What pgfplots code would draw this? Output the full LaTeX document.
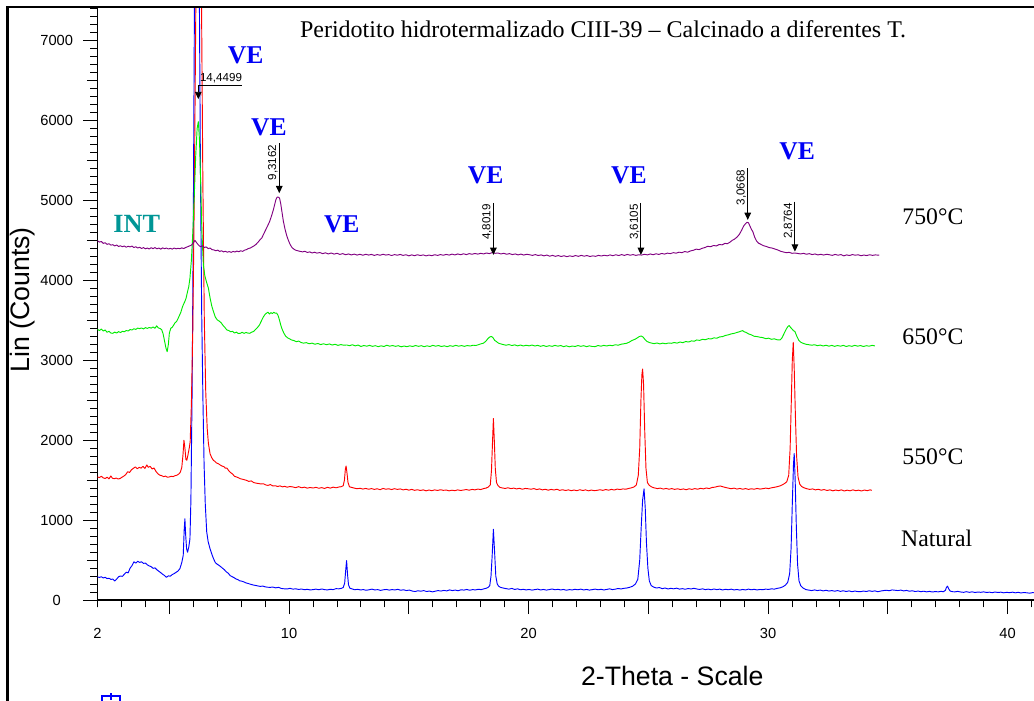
\documentclass[border=0pt]{standalone}
\usepackage{fontspec}
\setmainfont{Liberation Serif}
\setsansfont{Liberation Sans}
\usepackage{pgfplots}
\pgfplotsset{compat=1.18}
\usetikzlibrary{arrows.meta}

\definecolor{xrdblue}{RGB}{0,0,255}
\definecolor{xrdred}{RGB}{255,0,0}
\definecolor{xrdgreen}{RGB}{0,235,0}
\definecolor{xrdpurple}{RGB}{128,0,128}
\definecolor{intteal}{RGB}{0,150,150}
\definecolor{veblue}{RGB}{0,0,245}

\newcommand{\dfont}{\fontsize{8.7}{10}\selectfont\sffamily}
% d-spacing marker: vertical arrow down to the reflection, value written along it
\newcommand{\dspacing}[4]{%
  \draw[line width=0.7pt,-{Triangle[width=5pt,length=5.5pt]}] (axis cs:#1,#2) -- (axis cs:#1,#3);
  \node[rotate=90, anchor=south east, inner sep=1pt, font=\dfont] at (axis cs:#1,#2) {#4};}

\begin{document}
\begin{tikzpicture}
\useasboundingbox (0,0) rectangle (775.5pt,525pt);
\begin{axis}[
  at={(73.125pt,75pt)}, anchor=south west,
  scale only axis, width=862.2pt, height=444.75pt,
  xmin=2, xmax=50, ymin=0, ymax=7420,
  clip mode=individual,
  axis x line*=bottom, axis y line*=left,
  axis line style={-, line width=0.9pt},
  tick align=outside,
  major tick length=10.5pt, minor tick length=5.5pt,
  tick style={black, line width=0.7pt},
  xtick={5,10,...,40}, xticklabels={,10,,20,,30,,40},
  minor xtick={2,3,...,50},
  extra x ticks={2}, extra x tick labels={2},
  extra x tick style={major tick length=5.5pt, xticklabel style={yshift=-5pt}},
  ytick={0,1000,...,7000},
  minor ytick={0,100,...,7400},
  extra y ticks={500,1500,...,6500}, extra y tick labels={},
  extra y tick style={major tick length=8pt},
  tick label style={font=\fontsize{11}{13}\selectfont\sffamily},
  /pgf/number format/assume math mode=true,
  /pgf/number format/1000 sep={},
  yticklabel={\makebox[24.75pt][c]{\pgfmathprintnumber{\tick}}},
  yticklabel style={anchor=east, inner sep=0pt, xshift=-7.5pt},
  xticklabel style={yshift=-7.5pt},
  xlabel={2-Theta - Scale},
  xlabel style={font=\fontsize{20}{24}\selectfont\sffamily, at={(axis description cs:0.5,-0.145)}, anchor=base},
  ylabel={Lin (Counts)},
  ylabel style={font=\fontsize{20}{24}\selectfont\sffamily, at={(axis description cs:-0.0648,0.506)}, anchor=center},
  every axis plot/.append style={line width=0.7pt, line join=round, mark=none},
]

% Natural
\addplot[xrdblue] coordinates {
(2.00,290)(2.08,282)(2.16,291)(2.24,276)(2.32,284)(2.40,268)(2.48,272)(2.56,258)(2.64,262)(2.72,238)(2.80,262)(2.88,291)(2.96,300)(3.04,296)(3.12,322)(3.20,348)(3.28,340)(3.36,398)(3.44,430)(3.52,478)(3.60,462)(3.68,485)(3.76,470)(3.84,478)(3.92,458)(4.00,462)(4.08,440)(4.16,426)(4.24,418)(4.32,396)(4.40,402)(4.48,378)(4.56,360)(4.64,342)(4.72,322)(4.80,306)(4.88,284)(4.96,302)(5.04,298)(5.12,318)(5.20,330)(5.28,346)(5.36,362)(5.44,392)(5.52,470)(5.58,560)(5.62,880)(5.65,1016)(5.68,820)(5.72,640)(5.76,598)(5.81,660)(5.86,765)(5.90,1250)(5.95,2600)(6.00,4700)(6.05,7600)(6.10,9900)(6.15,10600)(6.20,9900)(6.25,7700)(6.30,5300)(6.35,3600)(6.40,2550)(6.45,1700)(6.50,1200)(6.56,853)(6.62,730)(6.70,640)(6.77,577)(6.84,520)(6.92,468)(6.98,452)(7.06,436)(7.14,418)(7.22,398)(7.30,378)(7.38,352)(7.46,335)(7.54,305)(7.62,292)(7.70,280)(7.78,264)(7.86,255)(7.94,240)(8.02,236)(8.10,228)(8.20,214)(8.30,206)(8.40,196)(8.50,188)(8.60,182)(8.70,176)(8.80,170)(8.90,175)(9.00,165)(9.10,160)(9.20,158)(9.32,162)(9.44,152)(9.56,158)(9.68,144)(9.80,140)(9.92,138)(10.04,146)(10.16,136)(10.28,140)(10.40,132)(10.52,138)(10.64,128)(10.76,134)(10.88,126)(11.00,130)(11.12,136)(11.24,128)(11.36,138)(11.48,130)(11.60,126)(11.72,134)(11.84,130)(11.96,142)(12.08,140)(12.18,146)(12.26,156)(12.32,210)(12.36,360)(12.40,493)(12.44,320)(12.48,190)(12.54,147)(12.62,140)(12.74,128)(12.86,134)(12.98,126)(13.10,130)(13.22,122)(13.34,128)(13.46,136)(13.58,126)(13.70,130)(13.82,120)(13.94,128)(14.06,132)(14.18,124)(14.30,130)(14.42,126)(14.54,134)(14.66,122)(14.78,128)(14.90,118)(15.02,124)(15.14,112)(15.26,106)(15.38,116)(15.50,110)(15.62,118)(15.74,106)(15.86,112)(15.98,102)(16.10,110)(16.22,118)(16.34,112)(16.46,120)(16.58,114)(16.70,126)(16.82,118)(16.94,124)(17.06,116)(17.18,128)(17.30,124)(17.42,132)(17.54,122)(17.66,130)(17.78,126)(17.90,134)(18.02,130)(18.14,140)(18.24,148)(18.32,160)(18.38,182)(18.43,300)(18.48,560)(18.53,885)(18.58,600)(18.63,300)(18.69,200)(18.75,172)(18.84,156)(18.94,150)(19.06,142)(19.18,136)(19.30,145)(19.42,132)(19.54,140)(19.66,128)(19.78,134)(19.90,126)(20.02,132)(20.14,124)(20.26,130)(20.38,136)(20.50,126)(20.62,132)(20.74,124)(20.86,130)(20.98,138)(21.10,128)(21.22,134)(21.34,126)(21.46,132)(21.58,122)(21.70,130)(21.82,126)(21.94,134)(22.06,128)(22.18,136)(22.30,126)(22.42,132)(22.54,124)(22.66,130)(22.78,136)(22.90,128)(23.02,134)(23.14,126)(23.26,132)(23.38,140)(23.50,130)(23.62,136)(23.74,144)(23.86,138)(23.98,146)(24.10,150)(24.22,159)(24.34,172)(24.46,200)(24.56,260)(24.64,500)(24.70,900)(24.76,1250)(24.82,1390)(24.87,1150)(24.92,720)(24.98,400)(25.04,240)(25.12,180)(25.22,162)(25.34,150)(25.46,156)(25.58,142)(25.70,150)(25.82,138)(25.94,146)(26.06,140)(26.18,148)(26.30,136)(26.42,142)(26.54,134)(26.66,144)(26.78,138)(26.90,146)(27.02,138)(27.14,132)(27.26,140)(27.38,130)(27.50,136)(27.62,128)(27.74,138)(27.86,130)(27.98,136)(28.10,126)(28.22,134)(28.34,128)(28.46,136)(28.58,126)(28.70,132)(28.82,124)(28.94,132)(29.06,126)(29.18,136)(29.30,128)(29.42,134)(29.54,126)(29.66,132)(29.78,129)(29.90,136)(30.02,132)(30.14,140)(30.26,136)(30.38,146)(30.50,152)(30.62,166)(30.72,185)(30.82,222)(30.90,330)(30.96,650)(31.01,1200)(31.06,1700)(31.09,1832)(31.13,1500)(31.18,900)(31.23,450)(31.29,240)(31.36,180)(31.46,150)(31.58,130)(31.70,124)(31.82,118)(31.94,126)(32.06,118)(32.18,124)(32.30,114)(32.42,122)(32.54,112)(32.66,118)(32.78,110)(32.90,118)(33.02,108)(33.14,116)(33.26,106)(33.38,114)(33.50,104)(33.62,112)(33.74,106)(33.86,104)(33.98,112)(34.10,106)(34.22,116)(34.34,108)(34.46,114)(34.58,104)(34.70,112)(34.82,118)(34.94,122)(35.06,116)(35.18,126)(35.30,122)(35.42,118)(35.54,124)(35.66,114)(35.78,120)(35.90,110)(36.02,116)(36.14,106)(36.26,112)(36.38,104)(36.50,110)(36.62,102)(36.74,108)(36.86,100)(36.98,106)(37.10,102)(37.22,108)(37.32,104)(37.40,120)(37.45,160)(37.49,174)(37.54,140)(37.60,112)(37.70,104)(37.80,102)(37.92,108)(38.04,100)(38.16,96)(38.28,104)(38.40,96)(38.52,102)(38.64,94)(38.76,100)(38.88,96)(39.00,102)(39.12,94)(39.24,98)(39.36,92)(39.48,100)(39.60,94)(39.72,98)(39.84,90)(39.96,96)(40.08,92)(40.20,98)(40.32,90)(40.44,96)(40.56,88)(40.68,94)(40.80,90)(40.92,86)(41.04,92)(41.16,90)(41.28,94)
};

% 550 C
\addplot[xrdred] coordinates {
(2.00,1540)(2.08,1532)(2.16,1548)(2.24,1528)(2.32,1520)(2.40,1536)(2.48,1516)(2.56,1552)(2.62,1524)(2.70,1518)(2.78,1526)(2.86,1514)(2.94,1520)(3.02,1536)(3.10,1550)(3.18,1570)(3.26,1605)(3.34,1596)(3.42,1630)(3.50,1648)(3.58,1665)(3.66,1642)(3.74,1660)(3.82,1650)(3.90,1672)(3.98,1646)(4.06,1690)(4.12,1660)(4.20,1672)(4.28,1640)(4.36,1652)(4.44,1610)(4.52,1580)(4.60,1562)(4.68,1556)(4.76,1544)(4.84,1550)(4.92,1536)(5.00,1540)(5.08,1548)(5.16,1544)(5.24,1556)(5.32,1562)(5.40,1578)(5.46,1600)(5.52,1660)(5.57,1820)(5.61,1999)(5.65,1900)(5.69,1760)(5.73,1748)(5.78,1820)(5.83,1900)(5.87,1980)(5.92,2450)(5.98,3400)(6.04,5000)(6.10,7200)(6.16,9600)(6.22,10600)(6.28,9600)(6.34,7600)(6.40,5200)(6.46,3500)(6.52,2600)(6.58,2150)(6.63,1960)(6.70,1830)(6.77,1780)(6.84,1748)(6.90,1735)(6.96,1716)(7.04,1706)(7.12,1690)(7.20,1676)(7.28,1668)(7.34,1648)(7.40,1652)(7.48,1618)(7.56,1594)(7.64,1576)(7.72,1548)(7.80,1540)(7.88,1530)(7.96,1518)(8.04,1512)(8.12,1506)(8.22,1497)(8.32,1484)(8.42,1490)(8.52,1470)(8.62,1462)(8.72,1458)(8.82,1452)(8.92,1455)(9.02,1440)(9.12,1434)(9.22,1444)(9.32,1427)(9.42,1430)(9.52,1420)(9.62,1428)(9.72,1416)(9.82,1422)(9.92,1412)(10.04,1420)(10.16,1414)(10.28,1406)(10.40,1418)(10.52,1404)(10.64,1412)(10.76,1400)(10.88,1408)(11.00,1401)(11.12,1410)(11.24,1398)(11.36,1406)(11.48,1396)(11.60,1410)(11.72,1400)(11.84,1412)(11.96,1404)(12.08,1414)(12.18,1418)(12.26,1430)(12.31,1500)(12.35,1640)(12.38,1677)(12.42,1580)(12.46,1470)(12.52,1416)(12.60,1410)(12.72,1400)(12.84,1392)(12.96,1398)(13.08,1388)(13.20,1396)(13.32,1386)(13.44,1394)(13.56,1384)(13.68,1392)(13.80,1380)(13.92,1396)(14.04,1386)(14.16,1392)(14.28,1382)(14.40,1393)(14.52,1384)(14.64,1390)(14.76,1378)(14.88,1386)(15.00,1374)(15.12,1384)(15.24,1372)(15.36,1380)(15.48,1370)(15.60,1378)(15.72,1366)(15.84,1376)(15.96,1368)(16.08,1378)(16.20,1370)(16.32,1380)(16.44,1372)(16.56,1376)(16.68,1366)(16.80,1374)(16.92,1368)(17.04,1378)(17.16,1370)(17.28,1376)(17.40,1382)(17.52,1374)(17.64,1384)(17.76,1378)(17.88,1388)(18.00,1382)(18.12,1394)(18.22,1400)(18.32,1414)(18.40,1440)(18.45,1620)(18.49,1950)(18.53,2271)(18.57,1980)(18.61,1640)(18.66,1470)(18.72,1432)(18.80,1410)(18.90,1402)(19.02,1396)(19.14,1404)(19.26,1394)(19.38,1400)(19.50,1390)(19.62,1398)(19.74,1386)(19.86,1396)(19.98,1392)(20.10,1386)(20.22,1394)(20.34,1382)(20.46,1390)(20.58,1378)(20.70,1386)(20.82,1374)(20.94,1384)(21.06,1376)(21.18,1386)(21.30,1372)(21.42,1380)(21.54,1370)(21.66,1378)(21.78,1368)(21.90,1376)(22.02,1368)(22.14,1380)(22.26,1370)(22.38,1378)(22.50,1366)(22.62,1376)(22.74,1368)(22.86,1372)(22.98,1380)(23.10,1372)(23.22,1382)(23.34,1374)(23.46,1384)(23.58,1376)(23.70,1388)(23.82,1382)(23.94,1390)(24.06,1386)(24.18,1396)(24.30,1404)(24.40,1414)(24.50,1440)(24.58,1560)(24.64,1900)(24.69,2500)(24.73,2820)(24.76,2890)(24.80,2700)(24.85,2100)(24.90,1650)(24.96,1470)(25.04,1434)(25.14,1414)(25.26,1402)(25.38,1394)(25.50,1400)(25.62,1388)(25.74,1396)(25.86,1386)(25.98,1394)(26.10,1384)(26.22,1392)(26.34,1382)(26.46,1390)(26.58,1380)(26.70,1392)(26.82,1384)(26.94,1394)(27.06,1386)(27.18,1398)(27.30,1390)(27.42,1402)(27.54,1394)(27.66,1408)(27.78,1412)(27.90,1422)(28.00,1427)(28.10,1418)(28.22,1408)(28.34,1400)(28.46,1392)(28.58,1400)(28.70,1388)(28.82,1396)(28.94,1386)(29.06,1394)(29.18,1384)(29.30,1392)(29.42,1386)(29.54,1396)(29.66,1388)(29.78,1393)(29.90,1400)(30.02,1394)(30.14,1404)(30.26,1410)(30.38,1418)(30.50,1428)(30.60,1442)(30.70,1460)(30.78,1480)(30.86,1560)(30.92,1900)(30.97,2500)(31.01,3000)(31.05,3225)(31.09,2900)(31.14,2300)(31.19,1800)(31.25,1540)(31.32,1450)(31.40,1420)(31.50,1404)(31.62,1392)(31.74,1384)(31.86,1390)(31.98,1378)(32.10,1386)(32.22,1374)(32.34,1382)(32.46,1370)(32.58,1378)(32.70,1366)(32.82,1376)(32.94,1368)(33.06,1378)(33.18,1364)(33.30,1374)(33.42,1366)(33.54,1378)(33.66,1368)(33.78,1374)(33.90,1364)(34.02,1376)(34.14,1368)(34.26,1378)(34.33,1372)
};

% 650 C
\addplot[xrdgreen] coordinates {
(2.00,3385)(2.08,3372)(2.16,3390)(2.24,3366)(2.32,3378)(2.40,3350)(2.48,3362)(2.56,3340)(2.64,3337)(2.72,3352)(2.80,3340)(2.88,3358)(2.96,3346)(3.04,3362)(3.12,3356)(3.20,3372)(3.28,3366)(3.36,3384)(3.44,3378)(3.52,3394)(3.60,3386)(3.68,3402)(3.76,3396)(3.84,3404)(3.92,3392)(4.00,3408)(4.08,3398)(4.16,3410)(4.24,3402)(4.32,3416)(4.40,3400)(4.47,3430)(4.54,3404)(4.62,3396)(4.68,3382)(4.74,3330)(4.80,3240)(4.86,3150)(4.91,3108)(4.96,3200)(5.00,3340)(5.06,3400)(5.12,3412)(5.18,3440)(5.24,3470)(5.30,3484)(5.36,3520)(5.42,3560)(5.48,3600)(5.54,3660)(5.58,3693)(5.64,3730)(5.70,3777)(5.76,3860)(5.81,3920)(5.86,4028)(5.92,4250)(5.98,4600)(6.04,5050)(6.10,5550)(6.16,5900)(6.21,5985)(6.26,5750)(6.31,5200)(6.36,4600)(6.42,4194)(6.48,4060)(6.55,3980)(6.63,3902)(6.70,3780)(6.77,3680)(6.84,3610)(6.92,3540)(7.00,3505)(7.08,3490)(7.16,3470)(7.24,3436)(7.32,3410)(7.40,3379)(7.48,3372)(7.56,3356)(7.64,3362)(7.72,3340)(7.80,3352)(7.88,3334)(7.96,3337)(8.04,3350)(8.12,3336)(8.20,3348)(8.28,3340)(8.36,3337)(8.44,3352)(8.52,3360)(8.60,3386)(8.68,3410)(8.76,3440)(8.84,3490)(8.92,3540)(9.00,3575)(9.06,3590)(9.12,3601)(9.18,3578)(9.24,3596)(9.30,3584)(9.36,3600)(9.42,3588)(9.48,3590)(9.54,3560)(9.60,3500)(9.66,3430)(9.72,3380)(9.78,3340)(9.86,3300)(9.94,3280)(10.02,3268)(10.10,3254)(10.20,3246)(10.30,3232)(10.40,3240)(10.50,3222)(10.60,3214)(10.72,3220)(10.84,3206)(10.96,3214)(11.08,3200)(11.20,3210)(11.32,3196)(11.44,3206)(11.56,3194)(11.68,3204)(11.80,3190)(11.92,3200)(12.04,3186)(12.16,3196)(12.28,3188)(12.40,3191)(12.52,3182)(12.64,3194)(12.76,3180)(12.88,3190)(13.00,3172)(13.12,3184)(13.24,3176)(13.36,3186)(13.48,3174)(13.60,3182)(13.72,3170)(13.84,3180)(13.96,3172)(14.08,3188)(14.20,3176)(14.32,3184)(14.44,3174)(14.56,3182)(14.68,3168)(14.80,3178)(14.92,3170)(15.04,3180)(15.16,3172)(15.28,3184)(15.40,3174)(15.52,3182)(15.64,3170)(15.76,3180)(15.88,3172)(16.00,3186)(16.12,3176)(16.24,3184)(16.36,3172)(16.48,3180)(16.60,3170)(16.72,3182)(16.84,3174)(16.96,3186)(17.08,3176)(17.20,3183)(17.32,3174)(17.44,3184)(17.56,3178)(17.68,3188)(17.80,3184)(17.92,3196)(18.02,3206)(18.12,3214)(18.22,3240)(18.30,3270)(18.38,3292)(18.45,3298)(18.52,3280)(18.58,3250)(18.66,3233)(18.74,3214)(18.84,3204)(18.94,3196)(19.06,3188)(19.18,3196)(19.30,3184)(19.42,3192)(19.54,3180)(19.66,3190)(19.78,3178)(19.90,3188)(20.02,3180)(20.14,3190)(20.26,3178)(20.38,3186)(20.50,3174)(20.62,3184)(20.74,3172)(20.86,3182)(20.98,3174)(21.10,3186)(21.22,3176)(21.34,3184)(21.46,3170)(21.58,3180)(21.70,3168)(21.82,3178)(21.94,3172)(22.06,3184)(22.18,3174)(22.30,3182)(22.42,3170)(22.54,3180)(22.66,3172)(22.78,3171)(22.90,3184)(23.02,3176)(23.14,3186)(23.26,3178)(23.38,3188)(23.50,3182)(23.62,3194)(23.74,3188)(23.86,3200)(23.98,3206)(24.09,3212)(24.20,3226)(24.32,3248)(24.44,3262)(24.54,3280)(24.62,3296)(24.70,3304)(24.78,3290)(24.86,3260)(24.94,3236)(25.04,3222)(25.14,3214)(25.24,3208)(25.36,3216)(25.48,3204)(25.60,3214)(25.72,3206)(25.84,3216)(25.96,3212)(26.08,3222)(26.20,3214)(26.32,3228)(26.44,3220)(26.56,3234)(26.68,3228)(26.80,3242)(26.92,3238)(27.02,3254)(27.14,3248)(27.26,3262)(27.38,3256)(27.50,3270)(27.62,3266)(27.74,3280)(27.86,3276)(27.98,3292)(28.10,3296)(28.22,3310)(28.34,3318)(28.46,3330)(28.58,3336)(28.70,3348)(28.80,3356)(28.88,3366)(28.94,3370)(29.00,3356)(29.08,3348)(29.18,3330)(29.30,3318)(29.42,3300)(29.54,3296)(29.66,3288)(29.78,3283)(29.90,3270)(30.02,3276)(30.14,3262)(30.26,3268)(30.38,3256)(30.50,3254)(30.58,3280)(30.66,3330)(30.74,3380)(30.82,3420)(30.88,3434)(30.94,3410)(31.00,3390)(31.06,3370)(31.12,3359)(31.20,3300)(31.28,3250)(31.36,3226)(31.46,3212)(31.58,3200)(31.70,3194)(31.82,3188)(31.94,3194)(32.06,3182)(32.18,3190)(32.30,3178)(32.42,3188)(32.54,3176)(32.66,3186)(32.78,3174)(32.90,3184)(33.02,3176)(33.14,3186)(33.26,3172)(33.38,3182)(33.50,3174)(33.62,3186)(33.74,3176)(33.86,3184)(33.98,3172)(34.10,3182)(34.22,3176)(34.34,3186)(34.46,3180)
};

% 750 C
\addplot[xrdpurple] coordinates {
(2.00,4495)(2.08,4478)(2.16,4486)(2.24,4462)(2.32,4470)(2.40,4450)(2.48,4458)(2.56,4440)(2.64,4446)(2.72,4430)(2.80,4442)(2.88,4424)(2.96,4432)(3.04,4420)(3.12,4430)(3.20,4414)(3.28,4426)(3.36,4418)(3.44,4428)(3.52,4410)(3.60,4420)(3.68,4404)(3.76,4414)(3.84,4398)(3.92,4410)(4.00,4394)(4.08,4404)(4.16,4392)(4.24,4408)(4.32,4396)(4.40,4410)(4.48,4394)(4.56,4404)(4.64,4390)(4.72,4406)(4.80,4396)(4.88,4404)(4.96,4392)(5.04,4400)(5.12,4390)(5.20,4404)(5.28,4394)(5.36,4400)(5.44,4395)(5.52,4406)(5.60,4398)(5.68,4410)(5.76,4420)(5.84,4430)(5.92,4440)(6.00,4470)(6.07,4500)(6.14,4470)(6.22,4440)(6.30,4420)(6.38,4432)(6.46,4410)(6.54,4418)(6.62,4396)(6.70,4404)(6.78,4384)(6.86,4380)(6.94,4370)(7.02,4378)(7.10,4362)(7.18,4370)(7.26,4356)(7.34,4364)(7.42,4352)(7.50,4360)(7.58,4350)(7.66,4362)(7.74,4354)(7.82,4366)(7.90,4358)(7.98,4370)(8.06,4362)(8.14,4378)(8.22,4384)(8.30,4398)(8.38,4404)(8.46,4418)(8.54,4432)(8.62,4450)(8.70,4476)(8.78,4505)(8.86,4530)(8.94,4580)(9.02,4630)(9.10,4680)(9.18,4730)(9.26,4800)(9.34,4880)(9.40,4950)(9.45,5010)(9.50,5040)(9.55,5040)(9.60,5030)(9.65,4960)(9.70,4860)(9.76,4740)(9.83,4640)(9.90,4560)(9.97,4500)(10.04,4450)(10.12,4410)(10.20,4390)(10.28,4376)(10.36,4370)(10.46,4362)(10.56,4356)(10.66,4364)(10.76,4348)(10.86,4356)(10.96,4342)(11.06,4352)(11.16,4340)(11.28,4348)(11.40,4334)(11.52,4344)(11.64,4330)(11.76,4342)(11.88,4328)(12.00,4338)(12.12,4324)(12.24,4334)(12.36,4320)(12.48,4330)(12.60,4318)(12.72,4328)(12.84,4316)(12.96,4326)(13.08,4314)(13.20,4326)(13.32,4316)(13.44,4324)(13.56,4312)(13.68,4322)(13.80,4314)(13.92,4326)(14.04,4316)(14.16,4322)(14.28,4310)(14.40,4322)(14.52,4314)(14.64,4324)(14.76,4312)(14.88,4320)(15.00,4306)(15.12,4318)(15.24,4308)(15.36,4320)(15.48,4310)(15.60,4318)(15.72,4306)(15.84,4316)(15.96,4308)(16.08,4320)(16.20,4312)(16.32,4322)(16.44,4314)(16.56,4324)(16.68,4316)(16.80,4328)(16.92,4318)(17.04,4330)(17.16,4320)(17.28,4332)(17.40,4322)(17.52,4334)(17.64,4326)(17.76,4336)(17.88,4328)(18.00,4338)(18.12,4330)(18.24,4342)(18.36,4334)(18.48,4346)(18.60,4338)(18.72,4342)(18.84,4330)(18.96,4338)(19.08,4326)(19.20,4334)(19.32,4322)(19.44,4330)(19.56,4318)(19.68,4328)(19.80,4316)(19.92,4326)(20.04,4320)(20.16,4312)(20.28,4322)(20.40,4310)(20.52,4318)(20.64,4306)(20.76,4316)(20.88,4302)(21.00,4312)(21.12,4300)(21.24,4310)(21.36,4298)(21.48,4308)(21.60,4296)(21.72,4306)(21.84,4298)(21.96,4310)(22.08,4300)(22.20,4312)(22.32,4302)(22.44,4310)(22.56,4298)(22.68,4306)(22.80,4300)(22.92,4312)(23.04,4304)(23.16,4314)(23.28,4306)(23.40,4318)(23.52,4308)(23.64,4320)(23.76,4310)(23.88,4322)(24.00,4312)(24.12,4324)(24.24,4314)(24.36,4322)(24.48,4312)(24.60,4320)(24.72,4316)(24.84,4326)(24.96,4318)(25.08,4330)(25.20,4320)(25.32,4332)(25.44,4324)(25.56,4336)(25.68,4328)(25.80,4340)(25.92,4334)(26.04,4346)(26.16,4340)(26.28,4352)(26.40,4346)(26.52,4360)(26.64,4352)(26.76,4368)(26.88,4376)(27.00,4390)(27.12,4384)(27.24,4400)(27.36,4410)(27.48,4426)(27.60,4420)(27.72,4436)(27.84,4430)(27.96,4448)(28.08,4444)(28.20,4462)(28.30,4458)(28.40,4476)(28.50,4500)(28.60,4516)(28.70,4540)(28.80,4575)(28.90,4630)(28.98,4680)(29.06,4710)(29.12,4726)(29.18,4720)(29.24,4680)(29.30,4640)(29.36,4610)(29.44,4540)(29.52,4490)(29.60,4465)(29.70,4450)(29.80,4434)(29.92,4424)(30.04,4410)(30.16,4404)(30.28,4392)(30.40,4380)(30.52,4364)(30.64,4354)(30.76,4346)(30.88,4350)(31.00,4338)(31.12,4342)(31.24,4336)(31.36,4330)(31.48,4338)(31.60,4326)(31.72,4334)(31.84,4322)(31.96,4330)(32.08,4318)(32.20,4326)(32.32,4316)(32.44,4326)(32.56,4320)(32.68,4312)(32.80,4324)(32.92,4314)(33.04,4322)(33.16,4306)(33.28,4318)(33.40,4310)(33.52,4322)(33.64,4314)(33.76,4320)(33.88,4308)(34.00,4316)(34.12,4310)(34.24,4320)(34.36,4312)(34.48,4318)(34.64,4314)
};

% title
\node[anchor=base, font=\fontsize{18}{20}\selectfont] at (axis cs:23.11,7043)
  {Peridotito hidrotermalizado CIII-39 – Calcinado a diferentes T.};

% phase labels
\tikzset{ve/.style={anchor=base, text=veblue, font=\fontsize{19.2}{22}\selectfont\bfseries, inner sep=0pt}}
\node[ve] at (axis cs:8.19,6708) {VE};
\node[ve] at (axis cs:9.16,5807) {VE};
\node[ve] at (axis cs:12.20,4602) {VE};
\node[ve] at (axis cs:18.21,5207) {VE};
\node[ve] at (axis cs:24.19,5207) {VE};
\node[ve] at (axis cs:31.21,5507) {VE};
\node[anchor=base, text=intteal, font=\fontsize{19.7}{22}\selectfont\bfseries, inner sep=0pt] at (axis cs:3.64,4602) {INT};

% temperature of each pattern
\tikzset{temp/.style={anchor=base, font=\fontsize{17.8}{20}\selectfont, inner sep=0pt}}
\node[temp] at (axis cs:36.88,4693) {750°C};
\node[temp] at (axis cs:36.88,3191) {650°C};
\node[temp] at (axis cs:36.88,1698) {550°C};
\node[temp] at (axis cs:37.04,667) {Natural};

% d-spacings (Angstrom)
\draw[line width=0.7pt] (axis cs:6.21,6442) -- (axis cs:8.02,6442);
\draw[line width=0.7pt,-{Triangle[width=5pt,length=5.5pt]}] (axis cs:6.21,6442) -- (axis cs:6.21,6267);
\node[anchor=base west, inner sep=0pt, font=\dfont] at (axis cs:6.27,6483) {14,4499};
\dspacing{9.59}{5716}{5090}{9,3162}
\dspacing{18.53}{4969}{4318}{4,8019}
\dspacing{24.69}{4969}{4318}{3,6105}
\dspacing{29.15}{5403}{4756}{3,0668}
\dspacing{31.12}{4985}{4359}{2,8764}
\end{axis}

% page frame and window icon
\draw[line width=1.9pt] (5.5pt,-5pt) -- (5.5pt,519.75pt) -- (790pt,519.75pt);
\draw[xrdblue, line width=0.8pt] (76.5pt,3pt) rectangle (90pt,-6pt);
\draw[xrdblue, line width=0.8pt] (83.25pt,5.25pt) -- (83.25pt,0pt);
\end{tikzpicture}
\end{document}
